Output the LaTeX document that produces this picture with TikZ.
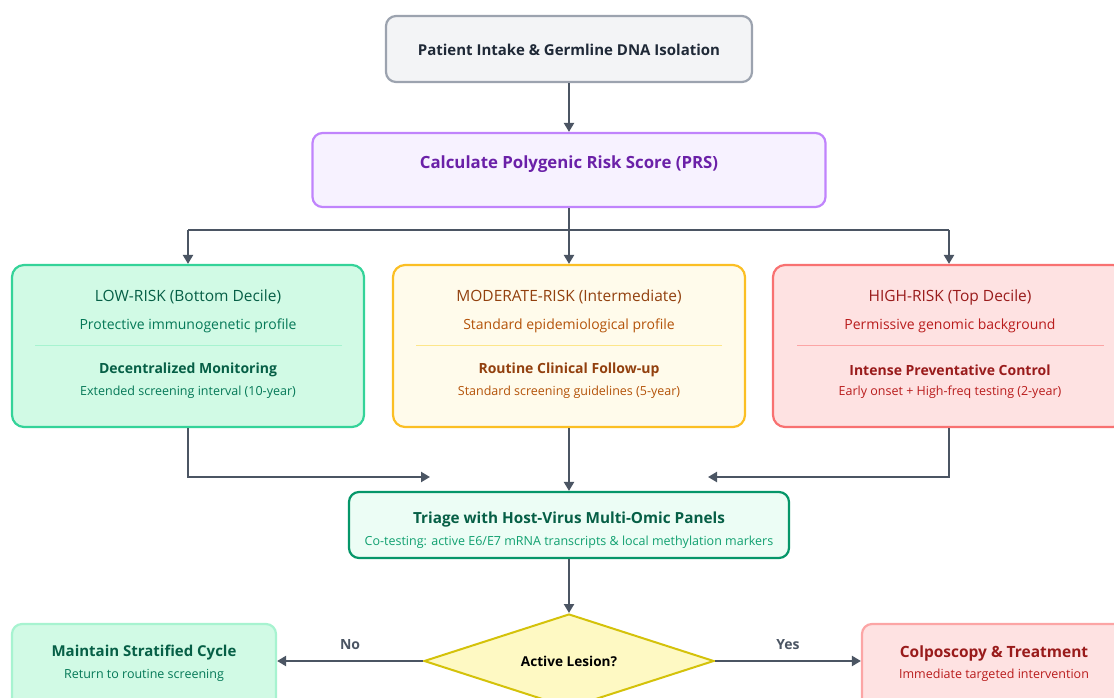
\documentclass[tikz,border=0pt]{standalone}
\usepackage{fontspec}
\setmainfont{Open Sans}
\usetikzlibrary{arrows.meta,shapes.geometric}
\definecolor{arrowc}{HTML}{4B5563}
\definecolor{grayfill}{HTML}{F3F4F6}\definecolor{grayline}{HTML}{9CA3AF}\definecolor{graytext}{HTML}{1F2937}
\definecolor{purfill}{HTML}{F7F2FF}\definecolor{purline}{HTML}{C084FC}\definecolor{purtext}{HTML}{6B21A8}
\definecolor{lowfill}{HTML}{D1FAE5}\definecolor{lowline}{HTML}{34D399}\definecolor{lowtext}{HTML}{065F46}\definecolor{lowsub}{HTML}{047857}\definecolor{lowsep}{HTML}{A7F3D0}
\definecolor{modfill}{HTML}{FFFBEB}\definecolor{modline}{HTML}{FBBF24}\definecolor{modtext}{HTML}{92400E}\definecolor{modsub}{HTML}{B45309}\definecolor{modsep}{HTML}{FDE68A}
\definecolor{hifill}{HTML}{FEE2E2}\definecolor{hiline}{HTML}{F87171}\definecolor{hitext}{HTML}{991B1B}\definecolor{hisub}{HTML}{B91C1C}\definecolor{hisep}{HTML}{FCA5A5}
\definecolor{trifill}{HTML}{ECFDF5}\definecolor{triline}{HTML}{059669}\definecolor{trisub}{HTML}{10A070}
\definecolor{diafill}{HTML}{FEF9C3}\definecolor{dialine}{HTML}{D4C20A}
\tikzset{
  box/.style={draw, rounded corners=10pt, line width=2.2pt, inner sep=0pt},
  conn/.style={draw=arrowc, line width=2.3pt, -{Triangle[length=9pt,width=10pt]}},
  plain/.style={draw=arrowc, line width=2.3pt},
  lbl/.style={font=\fontsize{14}{16}\selectfont\bfseries, text=arrowc},
  head/.style={font=\fontsize{15.5}{18}\selectfont},
  line2/.style={font=\fontsize{14}{16}\selectfont},
  ttl/.style={font=\fontsize{14}{16}\selectfont\bfseries},
  sub/.style={font=\fontsize{12.5}{15}\selectfont},
}
\begin{document}
\begin{tikzpicture}[x=1pt,y=-1pt]
\useasboundingbox (0,0) rectangle (1114,698);
\begin{scope}
\clip (0,0) rectangle (1114,698);

% top steps
\node[box, fill=grayfill, draw=grayline, minimum width=366pt, minimum height=66pt] (intake) at (569,49) {};
\node[font=\fontsize{15}{18}\selectfont\bfseries, text=graytext] (intaket) at (569,50) {Patient Intake \& Germline DNA Isolation};

\node[box, fill=purfill, draw=purline, minimum width=513pt, minimum height=74pt] (prs) at (569,170) {};
\node[font=\fontsize{16.8}{20}\selectfont\bfseries, text=purtext] (prst) at (569,164) {Calculate Polygenic Risk Score (PRS)};

% risk tiers
\node[box, rounded corners=12pt, fill=lowfill, draw=lowline, minimum width=352pt, minimum height=162pt] (low) at (188,346) {};
\node[head, text=lowtext] (lowa) at (188,297) {LOW-RISK (Bottom Decile)};
\node[line2, text=lowsub] (lowb) at (188,326) {Protective immunogenetic profile};
\draw[lowsep, line width=1pt] (35,345) -- (342,345);
\node[ttl, text=lowtext] (lowc) at (188,370) {Decentralized Monitoring};
\node[sub, text=lowsub] (lowd) at (188,392) {Extended screening interval (10-year)};

\node[box, rounded corners=12pt, fill=modfill, draw=modline, minimum width=352pt, minimum height=162pt] (mod) at (569,346) {};
\node[head, text=modtext] (moda) at (569,297) {MODERATE-RISK (Intermediate)};
\node[line2, text=modsub] (modb) at (569,326) {Standard epidemiological profile};
\draw[modsep, line width=1pt] (416,345) -- (722,345);
\node[ttl, text=modtext] (modc) at (569,370) {Routine Clinical Follow-up};
\node[sub, text=modsub] (modd) at (569,392) {Standard screening guidelines (5-year)};

\node[box, rounded corners=12pt, fill=hifill, draw=hiline, minimum width=352pt, minimum height=162pt] (hi) at (949,346) {};
\node[head, text=hitext] (hia) at (950,297) {HIGH-RISK (Top Decile)};
\node[line2, text=hisub] (hib) at (950,326) {Permissive genomic background};
\draw[hisep, line width=1pt] (797,345) -- (1104,345);
\node[ttl, text=hitext] (hic) at (950,370) {Intense Preventative Control};
\node[sub, text=hisub] (hid) at (950,392) {Early onset + High-freq testing (2-year)};

% triage
\node[box, fill=trifill, draw=triline, minimum width=440pt, minimum height=66pt] (tri) at (569,525) {};
\node[font=\fontsize{15.3}{18}\selectfont\bfseries, text=lowtext] (tria) at (569,520) {Triage with Host-Virus Multi-Omic Panels};
\node[sub, text=trisub] (trib) at (569,542) {Co-testing: active E6/E7 mRNA transcripts \& local methylation markers};

% decision
\node[diamond, draw=dialine, fill=diafill, line width=2pt, minimum width=290pt, minimum height=94pt, inner sep=0pt] (dec) at (569,661) {};
\node[font=\fontsize{13.6}{16}\selectfont\bfseries, text=black] (dect) at (569,661) {Active Lesion?};

% outcomes
\node[box, fill=lowfill, draw=lowsep, minimum width=264pt, minimum height=84pt] (keep) at (144,666) {};
\node[font=\fontsize{15}{18}\selectfont\bfseries, text=lowtext] (keepa) at (144,653) {Maintain Stratified Cycle};
\node[sub, text=lowsub] (keepb) at (144,675) {Return to routine screening};

\node[box, fill=hifill, draw=hisep, minimum width=264pt, minimum height=84pt] (colpo) at (994,666) {};
\node[font=\fontsize{15.5}{18}\selectfont\bfseries, text=hitext] (colpoa) at (994,653) {Colposcopy \& Treatment};
\node[sub, text=hisub] (colpob) at (994,675) {Immediate targeted intervention};

% connectors
\draw[conn] (intake.south) -- (prs.north);
\coordinate (split) at (569,230);
\draw[plain] (prs.south) -- (split);
\draw[plain] (low.north |- split) -- (hi.north |- split);
\draw[conn] (split) -- (mod.north);
\draw[conn] (low.north |- split) -- (low.north);
\draw[conn] (hi.north |- split) -- (hi.north);

\coordinate (mergeL) at (430,477);
\coordinate (mergeR) at (708,477);
\draw[conn] (low.south) |- (mergeL);
\draw[conn] (hi.south) |- (mergeR);
\draw[conn] (mod.south) -- (tri.north);
\draw[conn] (tri.south) -- (dec.north);

\draw[conn] (dec.west) -- node[lbl, above=7pt] (no) {No} (dec.west -| keep.east);
\draw[conn] (dec.east) -- node[lbl, above=7pt] (yes) {Yes} (dec.east -| colpo.west);
\end{scope}
\end{tikzpicture}
\end{document}
